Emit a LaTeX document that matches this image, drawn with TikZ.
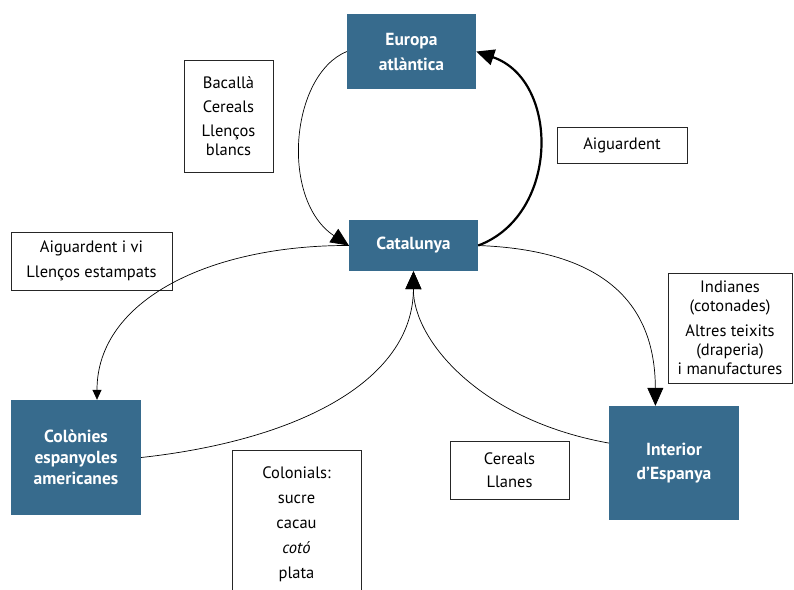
\documentclass[tikz,border=0pt]{standalone}
\usepackage{fontspec}
\setmainfont{PT Sans}
\usetikzlibrary{arrows.meta}
\definecolor{regiocol}{HTML}{376B8D}

\begin{document}
\begin{tikzpicture}[x=1pt, y=-1pt,
    regio/.style={fill=regiocol, text=white, align=center, inner sep=0pt,
        font=\bfseries\fontsize{17.5}{21}\selectfont},
    producte/.style={draw=black!85, line width=0.7pt, fill=white, align=center,
        inner sep=0pt, font=\fontsize{16.5}{19}\selectfont},
    flux/.style={-{Triangle[length=18pt, width=16pt]}, line width=0.7pt}
]
\useasboundingbox (0, 0) rectangle (794, 589);
% regions
\node[regio, minimum width=129, minimum height=75] (europa) at (411.5, 51.5) {Europa\\[4pt]atlàntica};
\node[regio, minimum width=129, minimum height=51] (catalunya) at (413.5, 245.5) {Catalunya};
\node[regio, minimum width=130, minimum height=115] (colonies) at (76, 457.5) {Colònies\\espanyoles\\americanes};
\node[regio, minimum width=130, minimum height=114] (interior) at (674, 463) {Interior\\[3pt]d’Espanya};
% products
\node[producte, minimum width=89, minimum height=112] (bacalla) at (228.5, 116) {Bacallà\\[5pt]Cereals\\[5pt]Llenços\\blancs};
\node[producte, minimum width=130, minimum height=36] (aiguardent) at (622, 145) {Aiguardent};
\node[producte, minimum width=161, minimum height=58] (aiguivi) at (91.5, 261) {Aiguardent i vi\\[6pt]Llenços estampats};
\node[producte, minimum width=129, anchor=north, inner ysep=16pt] (colonials) at (296.5, 450)
    {Colonials:\\[6pt]sucre\\[6pt]cacau\\[6pt]\textit{cotó}\\[6pt]plata};
\node[producte, minimum width=124, minimum height=110] (indianes) at (730, 328)
    {Indianes\\(cotonades)\\[6pt]Altres teixits\\(draperia)\\i manufactures};
\node[producte, minimum width=119, minimum height=58] (cereals) at (509.5, 470) {Cereals\\[4pt]Llanes};
% flows
\draw[flux] (europa.west) .. controls (290, 75) and (280, 200) .. (catalunya.west);
\draw[flux, line width=2.2pt] (catalunya.east) .. controls (560, 215) and (560, 80) .. (europa.east);
\draw[flux, -{Triangle[length=10pt, width=9pt]}] (catalunya.west) .. controls (210, 245) and (97, 300) .. (colonies.70);
\draw[flux] (colonies.east) .. controls (300, 440) and (413, 380) .. (catalunya.south);
\draw[flux] (interior.163) .. controls (480, 420) and (413, 340) .. (catalunya.south);
\draw[flux] (catalunya.east) .. controls (600, 250) and (655, 300) .. (interior.108);
\end{tikzpicture}
\end{document}
